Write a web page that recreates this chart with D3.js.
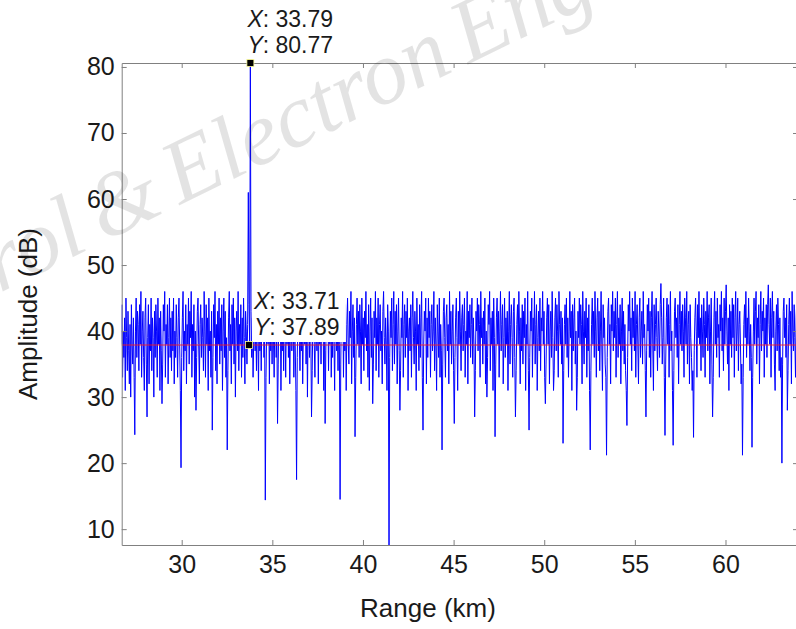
<!DOCTYPE html>
<head>
    <style>
        body { margin: 0; background: #fff; }
        svg { display: block; font-family: "Liberation Sans", Arial, sans-serif; }
        .axis path, .axis line { stroke: #808080; }
        .axis text { fill: #1a1a1a; font-size: 25px; font-family: "Liberation Sans", Arial, sans-serif; }
        path.echo { fill: none; stroke: #0000ff; stroke-width: 1px; }
        path.level { fill: none; stroke: #ff1a1a; stroke-width: 1px; }
        text.label { fill: #1a1a1a; font-size: 26px; }
        text.tip { fill: #1a1a1a; font-size: 23px; }
        text.mark { font-family: "Liberation Serif", "Times New Roman", serif; font-style: italic;
                    font-size: 90px; word-spacing: -8px; fill: #000; fill-opacity: 0.11; }
    </style>
</head>
<body>
    <script src="https://d3js.org/d3.v7.min.js"></script>
    <script>
        // range cells: 37.5 m sampling starting at 26.6625 km
        var rangeStartKm = 26.6625;
        var rangeStepKm = 0.0375;

        // echo amplitude per range cell (dB)
        var amplitudeDb = [
            38,44,33,40,36, 42,31,45,39,34, 43,37,32,41,30, 44,38,35,42,33, 24.3,40,45,36,43,
            41,34,44,38,46, 33,40,43,36,31, 42,45,35,27,39, 44,32,41,37,45, 34,42,39,30,43,
            36,44,40,33,45, 38,42,31,43,37, 29,35,44,40,46, 33,41,38,44,32, 39,45,36,42,34,
            43,37,45,32,40, 36,44,39,33,42, 45,38,31,19.3,36, 42,46,34,40,37, 44,32,41,38,45,
            35,43,39,46,33, 41,37,44,30,40, 28,36,43,45,38, 32,41,44,36,42, 39,34,46,40,33,
            44,38,42,31,45, 37,40,33,43,25, 36,44,39,46,34, 41,32,43,38,45, 35,42,37,44,31,
            40,45,36,43,33, 39,22,34,42,46, 37,41,32,44,38, 45,35,42,30,40, 43,37,46,34,41,
            38,44,33,42,36, 45,39,32,43,40, 35,41,61,44,38, 80.77,43,36,42,33, 39,45,37,41,34,
            44,40,31,45,37, 42,34,43,39,46, 36,41,14.4,33,40, 44,38,45,32,42, 37,43,35,46,39,
            33,42,44,36,40, 26,35,43,39,45, 31,41,37,44,34, 46,40,33,42,38, 45,36,43,32,41,
            44,37,40,45,33, 42,38,31,17.5,36, 43,46,39,34,41, 37,44,32,40,45, 38,42,35,43,30,
            41,45,36,43,39, 27,34,42,46,38, 33,44,40,37,45, 32,41,38,43,35, 46,39,42,31,44,
            26,37,43,40,45, 34,42,38,46,33, 41,36,44,39,31, 43,45,37,40,34, 42,38,14.5,35,44,
            40,46,33,42,37, 44,31,41,45,38, 35,43,39,46,32, 40,44,36,42,24, 33,41,45,38,43,
            36,44,40,32,45, 38,42,34,43,39, 46,37,41,33,44, 31,40,45,36,42, 29,35,43,39,46,
            34,42,38,45,33, 41,44,37,40,32, 43,46,39,35,42, 38,31,44,40,5, 36,43,39,45,34,
            41,46,35,43,38, 44,32,40,45,37, 28,34,42,39,46, 33,41,44,36,43, 39,45,31,40,42,
            37,44,33,42,46, 39,35,43,40,31, 45,38,41,34,44, 36,42,46,33,25, 38,43,40,45,32,
            42,36,45,39,43, 33,41,44,37,40, 46,34,42,38,31, 44,40,36,45,33, 41,37,22,35,43,
            45,39,33,42,44, 37,41,32,46,38, 43,35,40,44,34, 26,36,42,45,39, 31,43,38,46,40,
            34,42,44,37,41, 45,33,40,38,46, 32,43,39,44,36, 41,45,35,42,38, 27,34,43,40,45,
            37,44,41,33,46, 39,42,35,43,38, 45,32,40,30,36, 44,41,46,34,42, 38,43,31,45,39,
            24,35,42,45,38, 43,33,40,46,37, 41,44,32,39,45, 36,42,38,43,31, 40,46,35,41,44,
            39,33,43,45,36, 27,34,41,44,38, 46,40,32,42,37, 44,35,43,39,45, 31,41,38,46,34,
            25,36,43,40,45, 33,42,38,46,35, 41,44,31,39,43, 37,45,34,42,40, 46,38,43,33,29,
            35,42,45,38,44, 32,40,43,36,46, 39,31,34,42,45, 37,44,40,33,46, 41,38,43,35,42,
            23,34,41,44,38, 45,36,42,33,40, 46,39,43,31,44, 37,42,45,35,40, 28,33,43,39,45,
            38,44,41,32,46, 40,35,43,39,45, 33,42,37,44,31, 22,34,41,45,38, 43,36,46,40,33,
            42,45,37,43,34, 40,46,38,31,44, 39,42,35,33,21.2, 36,43,45,38,41, 32,44,40,46,37,
            43,39,45,33,41, 46,36,42,38,44, 32,40,45,37,43, 35,41,34,31,25.7, 36,44,40,46,38,
            42,34,45,39,43, 37,46,33,41,44, 38,32,42,45,36, 40,43,35,46,39, 41,34,27,37,44,
            40,45,36,43,33, 42,46,38,31,44, 37,41,45,39,34, 43,40,36,44,47.2, 42,35,39,45,33,
            24.2,35,42,45,38, 44,33,41,46,37, 40,31,22.7,34,43, 45,39,42,36,44, 32,41,46,38,43,
            37,44,40,33,45, 42,38,46,35,41, 43,32,44,39,36, 31,34,23.9,37,42, 45,40,33,44,39,
            46,38,42,34,44, 40,36,45,41,33, 43,39,46,37,42, 44,32,40,45,35, 27,33,42,46,38,
            43,36,45,39,41, 33,44,40,46,37, 42,34,45,38,43, 47,40,35,42,31, 44,38,43,36,45,
            39,44,33,42,46, 37,40,45,34,41, 43,38,32,35,21.2, 33,41,44,39,46, 36,42,38,45,40,
            34,41,36,22.4,33, 40,45,38,43,46, 35,42,39,44,32, 41,46,37,43,40, 45,33,42,38,44,
            36,44,47,41,38, 45,33,42,46,39, 43,35,31,40,44, 37,45,41,34,42, 33,36,20,35,43,
            45,39,42,36,44, 28,34,41,45,38, 43,32,46,40,37, 44,39,33,42,45, 38
        ];

        var levelDb = 37.89;

        // data tips: value pair plus text offset from the marker
        var tips = [
            {x: 33.79, y: 80.77, dx: -3, dy: -54},
            {x: 33.71, y: 37.89, dx: 5, dy: -54}
        ];

        var xTicks = [30, 35, 40, 45, 50, 55, 60];
        var yTicks = [10, 20, 30, 40, 50, 60, 70, 80];
        var xDomain = [26.69, 64.0];
        var yDomain = [7.6, 80.6];

        var rangeKm = amplitudeDb.map((d, i) => rangeStartKm + i * rangeStepKm);

        var dim = {'w': 796, 'h': 629,
                   margin: {'left': 121.7, 'right': -2, 'top': 63, 'bottom': 84}};
        var iw = dim.w - dim.margin.left - dim.margin.right;
        var ih = dim.h - dim.margin.top - dim.margin.bottom;

        var svg = d3.select('body')
                    .append('svg')
                    .attr('width', dim.w)
                    .attr('height', dim.h);

        var x_scale = d3.scaleLinear().domain(xDomain).range([0, iw]);
        var y_scale = d3.scaleLinear().domain(yDomain).range([ih, 0]);

        var g = svg.append('g')
                   .attr('transform', 'translate(' + dim.margin.left + ',' + dim.margin.top + ')');

        g.append('clipPath').attr('id', 'plot')
         .append('rect').attr('width', iw).attr('height', ih);

        var line = d3.line()
                     .x((d, i) => x_scale(rangeKm[i]))
                     .y(d => y_scale(d));

        var data_g = g.append('g').attr('clip-path', 'url(#plot)');
        data_g.append('path')
              .datum(amplitudeDb)
              .attr('class', 'echo')
              .attr('d', line);

        data_g.append('path')
              .datum(amplitudeDb.map(() => levelDb))
              .attr('class', 'level')
              .attr('d', line);

        // axes box with inward ticks
        g.append('g').attr('class', 'axis')
         .attr('transform', 'translate(0,' + ih + ')')
         .call(d3.axisBottom(x_scale).tickValues(xTicks).tickSizeInner(-5).tickSizeOuter(0).tickPadding(10));
        g.append('g').attr('class', 'axis')
         .call(d3.axisTop(x_scale).tickValues(xTicks).tickSizeInner(-5).tickSizeOuter(0).tickFormat(''));
        g.append('g').attr('class', 'axis')
         .call(d3.axisLeft(y_scale).tickValues(yTicks).tickSizeInner(-5).tickSizeOuter(0).tickPadding(7));
        g.append('g').attr('class', 'axis')
         .attr('transform', 'translate(' + iw + ',0)')
         .call(d3.axisRight(y_scale).tickValues(yTicks).tickSizeInner(-5).tickSizeOuter(0).tickFormat(''));

        svg.append('text').attr('class', 'label')
           .attr('x', 428)
           .attr('y', 617)
           .attr('text-anchor', 'middle')
           .text('Range (km)');
        svg.append('text').attr('class', 'label')
           .attr('transform', 'translate(37,314) rotate(-90)')
           .attr('text-anchor', 'middle')
           .text('Amplitude (dB)');

        // data tips
        tips.forEach(function(t) {
            var px = x_scale(t.x), py = Math.max(y_scale(t.y), 0);
            var tg = g.append('g').attr('transform', 'translate(' + (px + t.dx) + ',' + (py + t.dy) + ')');
            tg.append('rect')
              .attr('x', -2).attr('y', 0).attr('width', 94).attr('height', 51)
              .attr('fill', '#fff');
            var t1 = tg.append('text').attr('class', 'tip').attr('y', 18);
            t1.append('tspan').attr('font-style', 'italic').text('X');
            t1.append('tspan').text(': ' + t.x.toFixed(2));
            var t2 = tg.append('text').attr('class', 'tip').attr('y', 44);
            t2.append('tspan').attr('font-style', 'italic').text('Y');
            t2.append('tspan').text(': ' + t.y.toFixed(2));
            g.append('rect')
             .attr('x', px - 3.5).attr('y', py - 3.5)
             .attr('width', 7).attr('height', 7)
             .attr('fill', '#000').attr('stroke', '#ffff99').attr('stroke-width', 0.8);
        });

        // faint journal watermark, placed so "Electron" starts near (180, 205)
        var markText = 'Control & Electron Engineering';
        var markAngle = 26;
        var mark = svg.append('text').attr('class', 'mark').text(markText);
        var s = mark.node().getSubStringLength(0, markText.indexOf('Electron'));
        var ang = markAngle * Math.PI / 180;
        mark.attr('transform', 'translate(' + (180 - s * Math.cos(ang)) + ',' +
                  (205 + s * Math.sin(ang)) + ') rotate(-' + markAngle + ')');
    </script>
</body>
